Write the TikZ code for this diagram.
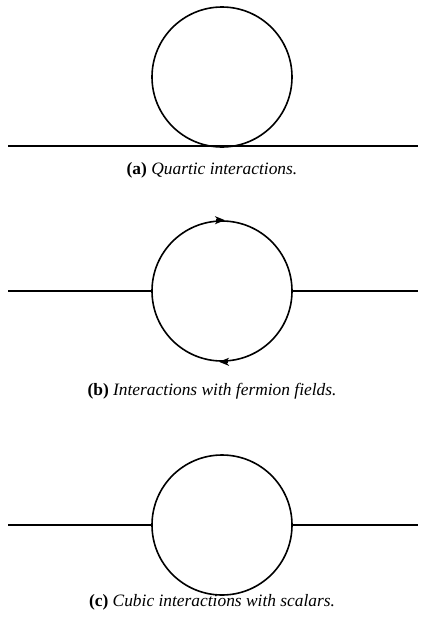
\documentclass[tikz,border=0pt]{standalone}
\usepackage{fontspec}
\setmainfont{Liberation Serif}
\usetikzlibrary{arrows.meta}
\begin{document}
\begin{tikzpicture}[x=1pt,y=-1pt,line width=1.6pt,
  loop/.style={circle,draw,minimum size=140pt,inner sep=0pt},
  captext/.style={font=\fontsize{17.4}{20}\selectfont},
  fliptip/.style={-{Stealth[length=10pt,width=8pt,inset=3pt]}}]
\useasboundingbox (0,0) rectangle (425,622);
% (a)
\node[loop] (ca) at (222,77) {};
\coordinate (la) at (8,146);
\coordinate (ra) at (418,146);
\draw (la) -- (ra);
\node[captext] (capa) at (212,170) {\textbf{(a)} \textit{Quartic interactions.}};
% (b)
\node[loop] (cb) at (222,291) {};
\coordinate (lb) at (8,291);
\coordinate (rb) at (418,291);
\draw (lb) -- (cb.west);
\draw (cb.east) -- (rb);
\draw[fliptip] ([xshift=-6pt]cb.north) -- ([xshift=3pt]cb.north);
\draw[fliptip] ([xshift=6pt]cb.south) -- ([xshift=-3pt]cb.south);
\node[captext] (capb) at (212,391) {\textbf{(b)} \textit{Interactions with fermion fields.}};
% (c)
\node[loop] (cc) at (222,525) {};
\coordinate (lc) at (8,525);
\coordinate (rc) at (418,525);
\draw (lc) -- (cc.west);
\draw (cc.east) -- (rc);
\node[captext] (capc) at (212,602) {\textbf{(c)} \textit{Cubic interactions with scalars.}};
\end{tikzpicture}
\end{document}
